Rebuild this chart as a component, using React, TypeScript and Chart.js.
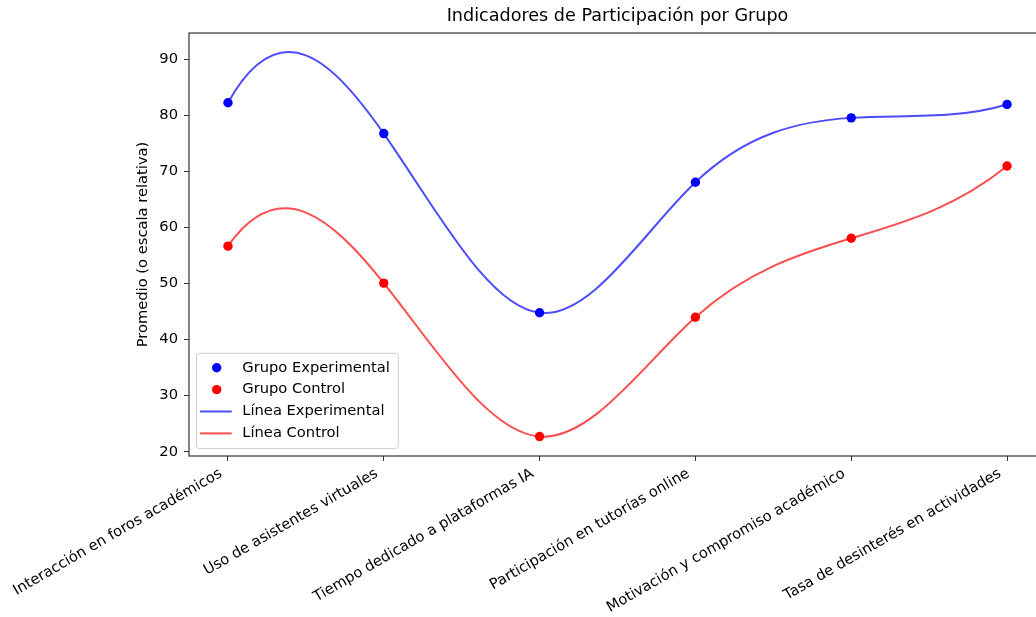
import React, { useEffect, useRef } from 'react';
import { Chart, registerables } from 'chart.js';

Chart.register(...registerables);

const categories = [
  'Interacción en foros académicos',
  'Uso de asistentes virtuales',
  'Tiempo dedicado a plataformas IA',
  'Participación en tutorías online',
  'Motivación y compromiso académico',
  'Tasa de desinterés en actividades',
];
const experimental = [82.3, 76.8, 44.8, 68.1, 79.6, 82.0];
const control = [56.7, 50.1, 22.7, 44.0, 58.1, 71.0];
const yTicks = [20, 30, 40, 50, 60, 70, 80, 90];

const FONT = "'DejaVu Sans', sans-serif";
const TICK_SIZE = 14.7;

// not-a-knot cubic spline slopes (same as scipy make_interp_spline k=3)
function notAKnotSlopes(xs: number[], ys: number[]): number[] {
  const n = xs.length;
  const h: number[] = [];
  for (let i = 0; i < n - 1; i++) h.push(xs[i + 1] - xs[i]);
  const A: number[][] = [];
  const b: number[] = [];
  for (let i = 0; i < n; i++) {
    A.push(new Array(n).fill(0));
    b.push(0);
  }
  A[0][0] = -h[1];
  A[0][1] = h[0] + h[1];
  A[0][2] = -h[0];
  for (let i = 1; i < n - 1; i++) {
    A[i][i - 1] = h[i - 1];
    A[i][i] = 2 * (h[i - 1] + h[i]);
    A[i][i + 1] = h[i];
    b[i] = 6 * ((ys[i + 1] - ys[i]) / h[i] - (ys[i] - ys[i - 1]) / h[i - 1]);
  }
  A[n - 1][n - 3] = -h[n - 2];
  A[n - 1][n - 2] = h[n - 3] + h[n - 2];
  A[n - 1][n - 1] = -h[n - 3];
  for (let c = 0; c < n; c++) {
    let p = c;
    for (let r = c + 1; r < n; r++) if (Math.abs(A[r][c]) > Math.abs(A[p][c])) p = r;
    [A[c], A[p]] = [A[p], A[c]];
    [b[c], b[p]] = [b[p], b[c]];
    for (let r = c + 1; r < n; r++) {
      const f = A[r][c] / A[c][c];
      for (let k = c; k < n; k++) A[r][k] -= f * A[c][k];
      b[r] -= f * b[c];
    }
  }
  const M = new Array(n).fill(0);
  for (let r = n - 1; r >= 0; r--) {
    let s = b[r];
    for (let k = r + 1; k < n; k++) s -= A[r][k] * M[k];
    M[r] = s / A[r][r];
  }
  const s: number[] = [];
  for (let i = 0; i < n - 1; i++) {
    s.push((ys[i + 1] - ys[i]) / h[i] - (h[i] * (2 * M[i] + M[i + 1])) / 6);
  }
  s.push((ys[n - 1] - ys[n - 2]) / h[n - 2] + (h[n - 2] * (M[n - 2] + 2 * M[n - 1])) / 6);
  return s;
}

const splinePlugin = {
  id: 'splineCurve',
  beforeDatasetDraw(chart: any, args: any) {
    const ds = chart.data.datasets[args.index];
    if (!ds.spline) return;
    const meta = args.meta;
    meta.dataset.updateControlPoints(chart.chartArea, 'x');
    const pts = meta.data;
    const n = pts.length;
    const xs = pts.map((p: any) => p.x);
    const ys = pts.map((p: any) => p.y);
    const s = notAKnotSlopes(xs, ys);
    for (let i = 0; i < n; i++) {
      if (i > 0) {
        const h = xs[i] - xs[i - 1];
        pts[i].cp1x = xs[i] - h / 3;
        pts[i].cp1y = ys[i] - (s[i] * h) / 3;
      }
      if (i < n - 1) {
        const h = xs[i + 1] - xs[i];
        pts[i].cp2x = xs[i] + h / 3;
        pts[i].cp2y = ys[i] + (s[i] * h) / 3;
      }
    }
    meta.dataset._path = undefined;
  },
};

const framePlugin = {
  id: 'frame',
  afterDatasetsDraw(chart: any) {
    const { ctx, chartArea: a } = chart;
    ctx.save();
    ctx.strokeStyle = '#333';
    ctx.lineWidth = 1.2;
    ctx.strokeRect(a.left, a.top, a.right - a.left, a.bottom - a.top);
    ctx.restore();
  },
};

const legendPlugin = {
  id: 'mplLegend',
  afterDraw(chart: any) {
    const { ctx, chartArea: a } = chart;
    const w = 201.8;
    const hgt = 95.4;
    const x0 = a.left + 7.5;
    const y0 = a.bottom - 7.3 - hgt;
    const r = 3;
    ctx.save();
    ctx.beginPath();
    ctx.moveTo(x0 + r, y0);
    ctx.lineTo(x0 + w - r, y0);
    ctx.arcTo(x0 + w, y0, x0 + w, y0 + r, r);
    ctx.lineTo(x0 + w, y0 + hgt - r);
    ctx.arcTo(x0 + w, y0 + hgt, x0 + w - r, y0 + hgt, r);
    ctx.lineTo(x0 + r, y0 + hgt);
    ctx.arcTo(x0, y0 + hgt, x0, y0 + hgt - r, r);
    ctx.lineTo(x0, y0 + r);
    ctx.arcTo(x0, y0, x0 + r, y0, r);
    ctx.closePath();
    ctx.fillStyle = 'rgba(255,255,255,0.8)';
    ctx.fill();
    ctx.strokeStyle = '#cccccc';
    ctx.lineWidth = 1;
    ctx.stroke();
    chart.data.datasets.forEach((ds: any, i: number) => {
      const cy = y0 + 14.4 + i * 21.9;
      if (ds.spline) {
        ctx.beginPath();
        ctx.moveTo(x0 + 3.5, cy);
        ctx.lineTo(x0 + 35.2, cy);
        ctx.strokeStyle = ds.borderColor;
        ctx.lineWidth = 2;
        ctx.stroke();
      } else {
        ctx.beginPath();
        ctx.arc(x0 + 20.2, cy, 4.7, 0, Math.PI * 2);
        ctx.fillStyle = ds.backgroundColor;
        ctx.fill();
      }
      ctx.fillStyle = '#000';
      ctx.font = `${TICK_SIZE}px ${FONT}`;
      ctx.textBaseline = 'middle';
      ctx.textAlign = 'left';
      ctx.fillText(ds.label, x0 + 45.8, cy);
    });
    ctx.restore();
  },
};

const LAYOUT_LEFT = 134;
const AREA_LEFT = 189;
const AREA_BOTTOM = 456;
const CANVAS_W = 1060;
const CANVAS_H = 617;
const AREA_RIGHT = 1046;

export default function App() {
  const ref = useRef<HTMLCanvasElement | null>(null);

  useEffect(() => {
    if (!ref.current) return;
    Chart.defaults.font.family = FONT;
    const toPts = (arr: number[]) => arr.map((v, i) => ({ x: i, y: v }));
    const chart = new Chart(ref.current, {
      type: 'line',
      data: {
        datasets: [
          {
            type: 'scatter',
            label: 'Grupo Experimental',
            data: toPts(experimental),
            backgroundColor: '#0000ff',
            borderColor: '#0000ff',
            pointRadius: 4.7,
            pointBorderWidth: 0,
            showLine: false,
            order: 2,
          },
          {
            type: 'scatter',
            label: 'Grupo Control',
            data: toPts(control),
            backgroundColor: '#ff0000',
            borderColor: '#ff0000',
            pointRadius: 4.7,
            pointBorderWidth: 0,
            showLine: false,
            order: 2,
          },
          {
            type: 'line',
            label: 'Línea Experimental',
            data: toPts(experimental),
            borderColor: 'rgba(0,0,255,0.7)',
            borderWidth: 2,
            pointRadius: 0,
            tension: 0.4,
            fill: false,
            order: 1,
            spline: true,
          } as any,
          {
            type: 'line',
            label: 'Línea Control',
            data: toPts(control),
            borderColor: 'rgba(255,0,0,0.7)',
            borderWidth: 2,
            pointRadius: 0,
            tension: 0.4,
            fill: false,
            order: 1,
            spline: true,
          } as any,
        ],
      },
      options: {
        animation: false,
        responsive: true,
        maintainAspectRatio: false,
        events: [],
        layout: { padding: { left: LAYOUT_LEFT, right: CANVAS_W - AREA_RIGHT, top: 0, bottom: 0 } },
        plugins: {
          legend: { display: false },
          tooltip: { enabled: false },
          title: {
            display: true,
            text: 'Indicadores de Participación por Grupo',
            fullSize: false,
            color: '#000',
            font: { size: 17.6, weight: 'normal', family: FONT },
            padding: { top: 6, bottom: 5.9 },
          },
        },
        scales: {
          x: {
            type: 'linear',
            min: -0.25,
            max: 5.25,
            afterBuildTicks: (s: any) => {
              s.ticks = categories.map((_, i) => ({ value: i }));
            },
            afterFit: (s: any) => {
              s.height = CANVAS_H - AREA_BOTTOM;
            },
            ticks: {
              callback: (v: any) => categories[v] ?? '',
              autoSkip: false,
              minRotation: 30,
              maxRotation: 30,
              padding: 4,
              labelOffset: -7,
              color: '#000',
              font: { size: TICK_SIZE, family: FONT },
            },
            grid: { display: true, drawOnChartArea: false, drawTicks: true, tickLength: 5, tickColor: '#333' },
            border: { display: false },
          },
          y: {
            type: 'linear',
            min: 19.23,
            max: 94.75,
            afterBuildTicks: (s: any) => {
              s.ticks = yTicks.map((v) => ({ value: v }));
            },
            afterFit: (s: any) => {
              s.width = AREA_LEFT - LAYOUT_LEFT;
            },
            ticks: { padding: 6, color: '#000', font: { size: TICK_SIZE, family: FONT } },
            grid: { display: true, drawOnChartArea: false, drawTicks: true, tickLength: 5, tickColor: '#333' },
            border: { display: false },
            title: {
              display: true,
              text: 'Promedio (o escala relativa)',
              color: '#000',
              font: { size: TICK_SIZE, family: FONT },
              padding: { top: 0, bottom: 0 },
            },
          },
        },
      } as any,
      plugins: [splinePlugin, framePlugin, legendPlugin],
    });
    return () => chart.destroy();
  }, []);

  return (
    <div
      style={{
        position: 'fixed',
        left: 0,
        top: 0,
        width: 1036,
        height: CANVAS_H,
        overflow: 'hidden',
        background: '#fff',
      }}
    >
      <div style={{ position: 'relative', width: CANVAS_W, height: CANVAS_H }}>
        <canvas ref={ref} />
      </div>
    </div>
  );
}
